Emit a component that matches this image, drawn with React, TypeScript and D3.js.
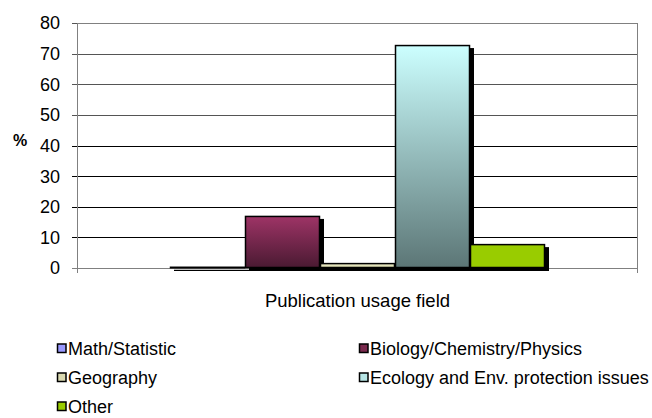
import React from "react";
import * as d3 from "d3";

const categories = ["Math/Statistic", "Biology/Chemistry/Physics", "Geography", "Ecology and Env. protection issues", "Other"];
const values = [0.4, 17, 1.6, 72.8, 7.8];
const yTicks = [0, 10, 20, 30, 40, 50, 60, 70, 80];
const xLabel = "Publication usage field";
const yLabel = "%";

const W = 652, H = 418;
const m = { left: 77, right: 637, top: 23, bottom: 268 };
const FONT = "'Liberation Sans', Arial, sans-serif";

const fills = [
  { id: "g0", top: "#9999ff", bot: "#9999ff" },
  { id: "g1", top: "#9e3466", bot: "#4a1a32" },
  { id: "g2", top: "#eeeecc", bot: "#d8d8a8" },
  { id: "g3", top: "#ccffff", bot: "#5c7676" },
  { id: "g4", top: "#99cc00", bot: "#99cc00" },
];
const legendColors = ["#9999ff", "#7a2a4e", "#d9d9b0", "#b8e6e6", "#99cc00"];

export default function App() {
  const y = d3.scaleLinear().domain([0, 80]).range([m.bottom, m.top]);
  const x = d3.scaleBand<string>().domain(categories).range([170, 545]).paddingInner(0);
  const legendPos = [
    { x: 57, y: 348.5 },
    { x: 359, y: 348.5 },
    { x: 57, y: 377.5 },
    { x: 359, y: 377.5 },
    { x: 57, y: 406.5 },
  ];
  return (
    <svg width={W} height={H} style={{ position: "absolute", left: 0, top: 0, background: "#fff" }}>
      <defs>
        {fills.map((f) => (
          <linearGradient key={f.id} id={f.id} x1="0" y1="0" x2="0" y2="1">
            <stop offset="0" stopColor={f.top} />
            <stop offset="1" stopColor={f.bot} />
          </linearGradient>
        ))}
      </defs>
      {yTicks.map((t) => (
        <g key={t}>
          <line x1={m.left - 5} x2={m.right} y1={Math.round(y(t)) + 0.5} y2={Math.round(y(t)) + 0.5} stroke={t === 0 ? "#808080" : t >= 50 ? "#555" : "#000"} strokeWidth={1} />
          <text x={60} y={y(t)} dy="0.36em" textAnchor="end" fontFamily={FONT} fontSize={18} fill="#000">{t}</text>
        </g>
      ))}
      <line x1={m.left + 0.5} x2={m.left + 0.5} y1={m.top} y2={m.bottom + 5} stroke="#808080" />
      <line x1={m.right + 0.5} x2={m.right + 0.5} y1={m.top} y2={m.bottom + 5} stroke="#808080" />
      <line x1={m.left} x2={m.right} y1={m.top + 0.5} y2={m.top + 0.5} stroke="#808080" />
      {categories.map((c, i) => {
        const bx = x(c)!;
        const bw = x.bandwidth();
        const by = y(values[i]);
        const bh = y(0) - by;
        return (
          <g key={c}>
            <rect x={bx + 4} y={by + 3} width={bw} height={bh} fill="#000" />
            <rect x={bx + 0.5} y={by + 0.5} width={bw - 1} height={Math.max(bh - 1, 0.5)} fill={`url(#${fills[i].id})`} stroke="#000" strokeWidth={1.5} />
          </g>
        );
      })}
      <text x={20} y={140} dy="0.36em" textAnchor="middle" fontFamily={FONT} fontSize={16} fontWeight="bold">{yLabel}</text>
      <text x={357.5} y={300} dy="0.36em" textAnchor="middle" fontFamily={FONT} fontSize={18.5}>{xLabel}</text>
      {categories.map((c, i) => (
        <g key={c}>
          <rect x={legendPos[i].x + 0.5} y={legendPos[i].y - 4.5} width={8.5} height={8.5} fill={legendColors[i]} stroke="#000" strokeWidth={1.5} />
          <text x={legendPos[i].x + 11} y={legendPos[i].y} dy="0.36em" fontFamily={FONT} fontSize={18}>{c}</text>
        </g>
      ))}
    </svg>
  );
}
